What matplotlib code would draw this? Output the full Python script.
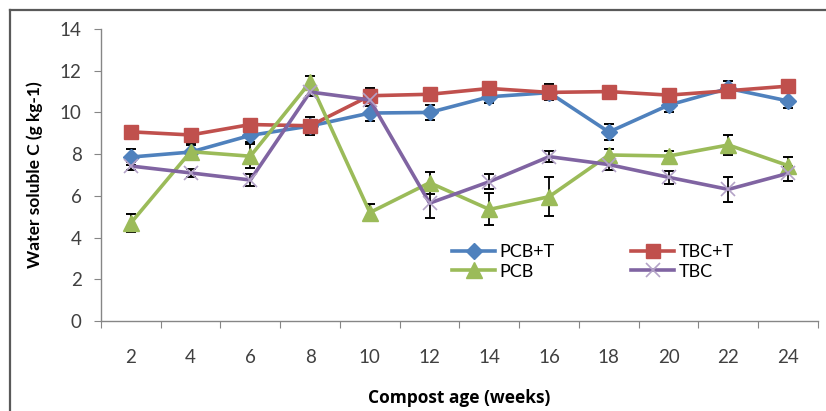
import matplotlib.pyplot as plt
from matplotlib.lines import Line2D

plt.rcParams['font.family'] = ['Lato', 'DejaVu Sans']

# data
weeks = [2, 4, 6, 8, 10, 12, 14, 16, 18, 20, 22, 24]
pcb_t = [7.86, 8.1, 8.9, 9.35, 9.97, 10.0, 10.75, 10.95, 9.06, 10.35, 11.15, 10.55]
tbc_t = [9.07, 8.92, 9.42, 9.36, 10.8, 10.87, 11.15, 10.96, 11.0, 10.83, 11.04, 11.26]
pcb = [4.7, 8.12, 7.9, 11.45, 5.2, 6.63, 5.35, 5.96, 7.96, 7.91, 8.44, 7.45]
tbc = [7.43, 7.1, 6.76, 10.98, 10.6, 5.65, 6.68, 7.88, 7.5, 6.89, 6.31, 7.08]

pcb_t_err = [0.38, 0.4, 0.3, 0.3, 0.36, 0.36, 0.3, 0.25, 0.38, 0.33, 0.38, 0.36]
tbc_t_err = [0.25, 0.25, 0.25, 0.42, 0.36, 0.25, 0.25, 0.38, 0.25, 0.25, 0.25, 0.25]
pcb_err = [0.42, 0.3, 0.57, 0.3, 0.4, 0.53, 0.77, 0.93, 0.3, 0.25, 0.5, 0.42]
tbc_err = [0.2, 0.2, 0.3, 0.2, 0.3, 0.7, 0.36, 0.27, 0.25, 0.32, 0.6, 0.35]

fig = plt.figure(figsize=(8.26, 4.11), dpi=100)
ax = fig.add_axes([101/826, 1-321/411, 717/826, 292/411])

series = [
    ("PCB+T", pcb_t, pcb_t_err, "#4F81BD", "D", 8.5, "#4F81BD", 1),
    ("TBC+T", tbc_t, tbc_t_err, "#C0504D", "s", 10.5, "#C0504D", 1),
    ("PCB", pcb, pcb_err, "#9BBB59", "^", 11, "#9BBB59", 1),
    ("TBC", tbc, tbc_err, "#8064A2", "x", 10, "#B3A2C7", 1.2),
]

handles = {}
for name, vals, err, col, mk, ms, mcol, mew in series:
    ax.errorbar(weeks, vals, yerr=err, fmt="none", ecolor="black",
                elinewidth=1.3, capsize=3.5, capthick=1.4, zorder=1.9)
    h, = ax.plot(weeks, vals, color=col, lw=2.6, marker=mk, ms=ms,
                 mfc=mcol, mec=mcol, mew=mew, label=name, zorder=2)
    handles[name] = h

ax.set_xlim(1, 25)
ax.set_ylim(0, 14)
ax.set_yticks(range(0, 15, 2))
ax.set_xticks(range(1, 26, 2))
ax.set_xticklabels([])
ax.set_xticks(weeks, minor=True)
ax.set_xticklabels([str(w) for w in weeks], minor=True)
ax.tick_params(axis="x", which="minor", length=0, pad=20, labelsize=13.5, colors="#404040")
ax.tick_params(axis="x", which="major", length=5, direction="out", color="#868686")
ax.tick_params(axis="y", length=5, direction="out", color="#868686", labelsize=13.5,
               labelcolor="#404040", pad=9)
for s in ["top", "right"]:
    ax.spines[s].set_visible(False)
for s in ["left", "bottom"]:
    ax.spines[s].set_color("#868686")
    ax.spines[s].set_linewidth(1)

ax.set_ylabel("Water soluble C (g kg-1)", fontsize=12.5, fontweight="bold", va="center")
ax.yaxis.set_label_coords((35-101)/717, 0.5)
ax.set_xlabel("Compost age (weeks)", fontsize=12.5, fontweight="bold", va="center",
              family=["Open Sans", "DejaVu Sans"])
ax.xaxis.set_label_coords(0.5, (321-398)/292)

# row-wise legend order: PCB+T, TBC+T / PCB, TBC
order = ["PCB+T", "PCB", "TBC+T", "TBC"]
ax.legend([handles[n] for n in order], order, ncol=2, loc="upper left",
          bbox_to_anchor=(452/826, 1-244/411), bbox_transform=fig.transFigure,
          frameon=False, fontsize=13, handlelength=2.4, handletextpad=0.25,
          columnspacing=4.2, labelspacing=0.2, borderpad=0, borderaxespad=0)

# outer chart border (left and top only visible)
fig.add_artist(Line2D([10/826, 10/826], [0, 1-10/411], color="#595959", lw=1.6))
fig.add_artist(Line2D([10/826, 1], [1-10/411, 1-10/411], color="#595959", lw=1.6))

plt.savefig("out.png", dpi=100)
